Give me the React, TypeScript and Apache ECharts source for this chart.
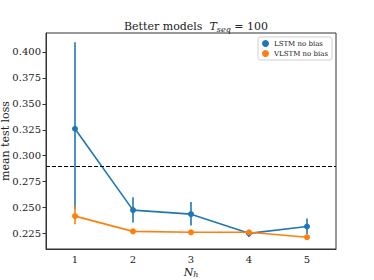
import React, { useEffect, useRef } from "react";
import * as echarts from "echarts";

const categories = ["1", "2", "3", "4", "5"];
const lstmMean = [0.326, 0.2476, 0.2437, 0.2252, 0.2318];
const lstmLow = [0.249, 0.2357, 0.2328, 0.2216, 0.2245];
const lstmHigh = [0.4095, 0.26, 0.2555, 0.228, 0.2395];
const vlstmMean = [0.2418, 0.2271, 0.2262, 0.2262, 0.2215];
const vlstmLow = [0.234, 0.2262, 0.2255, 0.2243, 0.2207];
const vlstmHigh = [0.2517, 0.228, 0.227, 0.2285, 0.2223];
const baseline = 0.2875;
const yTicks = [0.225, 0.25, 0.275, 0.3, 0.325, 0.35, 0.375, 0.4];

const BLUE = "#1f77b4";
const ORANGE = "#ff7f0e";
const FONT = "DejaVu Serif";

function errSeries(name: string, low: number[], high: number[], color: string) {
  return {
    name,
    type: "custom",
    data: low.map((l, i) => [i, l, high[i]]),
    renderItem: (params: any, api: any) => {
      const x = api.value(0);
      const p1 = api.coord([x, api.value(1)]);
      const p2 = api.coord([x, api.value(2)]);
      return {
        type: "line",
        shape: { x1: p1[0], y1: p1[1], x2: p2[0], y2: p2[1] },
        style: { stroke: color, lineWidth: 1.6 },
      };
    },
    z: 2,
  };
}

export default function App() {
  const ref = useRef<HTMLDivElement>(null);
  useEffect(() => {
    if (!ref.current) return;
    const chart = echarts.init(ref.current, undefined, { renderer: "svg" });
    chart.setOption({
      animation: false,
      textStyle: { fontFamily: FONT },
      title: {
        text: "Better models  {i|T}{sub|seq}{n| = 100}",
        left: 191,
        textAlign: "center",
        top: 15,
        textStyle: {
          fontFamily: FONT,
          fontWeight: "normal",
          fontSize: 11,
          color: "#222",
          rich: {
            i: { fontFamily: FONT, fontStyle: "italic", fontSize: 11, color: "#222" },
            sub: { fontFamily: FONT, fontStyle: "italic", fontSize: 8, color: "#222", verticalAlign: "bottom", padding: [5, 0, 0, 0] },
            n: { fontFamily: FONT, fontSize: 11, color: "#222" },
          },
        },
      },
      legend: {
        data: [
          { name: "LSTM no bias", icon: "circle", itemStyle: { color: BLUE } },
          { name: "VLSTM no bias", icon: "circle", itemStyle: { color: ORANGE } },
        ],
        orient: "vertical",
        right: 42,
        top: 37,
        itemWidth: 7,
        itemHeight: 7,
        itemGap: 3,
        padding: [3, 4, 3, 4],
        borderColor: "#d0d0d0",
        borderWidth: 1,
        borderRadius: 2,
        backgroundColor: "#fff",
        textStyle: { fontFamily: FONT, fontSize: 7, color: "#222" },
      },
      grid: {
        left: 46,
        right: 38,
        top: 33,
        bottom: 31,
        containLabel: false,
        outerBoundsMode: "none",
        show: true,
        borderColor: "#333",
        borderWidth: 1,
      },
      xAxis: {
        type: "category",
        data: categories,
        boundaryGap: true,
        axisLine: { lineStyle: { color: "#333" } },
        axisTick: { alignWithLabel: true, length: 3.5, lineStyle: { color: "#333" } },
        axisLabel: { fontFamily: FONT, fontSize: 10, color: "#222", margin: 5 },
        splitLine: { show: false },
        name: "{i|N}{sub|h}",
        nameLocation: "middle",
        nameGap: 17,
        nameMoveOverlap: false,
        nameTextStyle: {
          rich: {
            i: { fontFamily: FONT, fontStyle: "italic", fontSize: 11, color: "#222" },
            sub: { fontFamily: FONT, fontStyle: "italic", fontSize: 8, color: "#222", padding: [4, 0, 0, 0] },
          },
        },
      },
      yAxis: {
        type: "value",
        min: 0.2101,
        max: 0.4183,
        axisLine: { show: true, lineStyle: { color: "#333" } },
        axisTick: { show: true, length: 3.5, customValues: yTicks, lineStyle: { color: "#333" } },
        axisLabel: {
          fontFamily: FONT,
          fontSize: 10,
          color: "#222",
          margin: 5,
          customValues: yTicks,
          formatter: (v: number) => v.toFixed(3),
        },
        splitLine: { show: false },
        name: "mean test loss",
        nameLocation: "middle",
        nameGap: 35,
        nameMoveOverlap: false,
        nameTextStyle: { fontFamily: FONT, fontSize: 11, color: "#222" },
      },
      series: [
        errSeries("LSTM no bias", lstmLow, lstmHigh, BLUE),
        {
          name: "LSTM no bias",
          type: "line",
          data: lstmMean,
          symbol: "circle",
          symbolSize: 6,
          itemStyle: { color: BLUE },
          lineStyle: { color: BLUE, width: 1.6 },
          z: 3,
          markLine: {
            silent: true,
            symbol: "none",
            label: { show: false },
            lineStyle: { color: "#000", type: [4, 2], width: 1 },
            data: [{ yAxis: baseline }],
          },
        },
        errSeries("VLSTM no bias", vlstmLow, vlstmHigh, ORANGE),
        {
          name: "VLSTM no bias",
          type: "line",
          data: vlstmMean,
          symbol: "circle",
          symbolSize: 6,
          itemStyle: { color: ORANGE },
          lineStyle: { color: ORANGE, width: 1.6 },
          z: 4,
        },
      ],
    });
    return () => chart.dispose();
  }, []);
  return <div ref={ref} style={{ width: 374, height: 280, position: "absolute", left: 0, top: 0 }} />;
}
